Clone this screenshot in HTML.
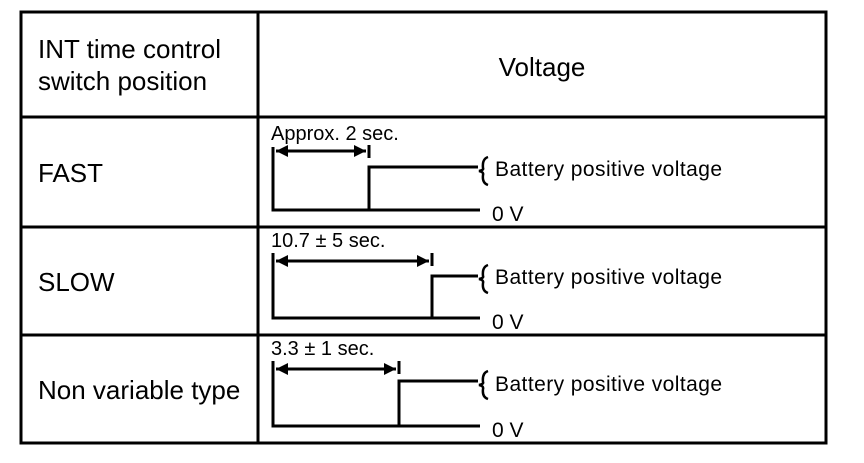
<!DOCTYPE html>
<html><head><style>
body{margin:0;background:#fff;}
svg text{font-family:"Liberation Sans",sans-serif;fill:#000;}
</style></head><body>
<svg width="864" height="458" viewBox="0 0 864 458" xmlns="http://www.w3.org/2000/svg">
<defs>
<marker id="ah" viewBox="0 0 10 10" refX="10" refY="5" markerWidth="6" markerHeight="4" orient="auto-start-reverse"><path d="M0,0 L10,5 L0,10 z" fill="#000"/></marker>
</defs>
<g stroke="#000" stroke-width="3" fill="none">
<rect x="21" y="12" width="805" height="431"/>
<line x1="258" y1="12" x2="258" y2="443"/>
<line x1="21" y1="117" x2="826" y2="117"/>
<line x1="21" y1="227" x2="826" y2="227"/>
<line x1="21" y1="335" x2="826" y2="335"/>
</g>
<text x="38" y="58" font-size="26">INT time control</text>
<text x="38" y="90" font-size="26">switch position</text>
<text x="542" y="76" font-size="26" text-anchor="middle">Voltage</text>
<text x="38" y="182" font-size="26">FAST</text>
<text x="38" y="291" font-size="26">SLOW</text>
<text x="38" y="399" font-size="26">Non variable type</text>

<g stroke="#000" stroke-width="3" fill="none">
<path d="M273,147 V210 H480 M369,210 V167 H478 M369,145 V158"/>
<line x1="276" y1="151" x2="366" y2="151" marker-start="url(#ah)" marker-end="url(#ah)"/>
<path d="M273,253 V318 H480 M432,318 V276 H478 M432,253 V266"/>
<line x1="276" y1="261" x2="429" y2="261" marker-start="url(#ah)" marker-end="url(#ah)"/>
<path d="M273,361 V426 H480 M399,426 V381 H478 M399,361 V374"/>
<line x1="276" y1="369" x2="396" y2="369" marker-start="url(#ah)" marker-end="url(#ah)"/>
<g stroke-width="2.5">
<path d="M488,157 Q482,159 483,168 Q484,170 479,171 Q484,172 483,175 Q482,183 488,185"/>
<path d="M488,265 Q482,267 483,276 Q484,278 479,279 Q484,280 483,283 Q482,291 488,293"/>
<path d="M488,371 Q482,373 483,382 Q484,384 479,385 Q484,386 483,389 Q482,397 488,399"/>
</g>
</g>
<g font-size="21">
<text x="271" y="140" font-size="20">Approx. 2 sec.</text>
<text x="271" y="247" font-size="20">10.7 ± 5 sec.</text>
<text x="271" y="355" font-size="20">3.3 ± 1 sec.</text>
<text x="495" y="176" textLength="227">Battery positive voltage</text>
<text x="492" y="221">0 V</text>
<text x="495" y="284" textLength="227">Battery positive voltage</text>
<text x="492" y="329">0 V</text>
<text x="495" y="391" textLength="227">Battery positive voltage</text>
<text x="492" y="437">0 V</text>
</g>
</svg>
</body></html>
